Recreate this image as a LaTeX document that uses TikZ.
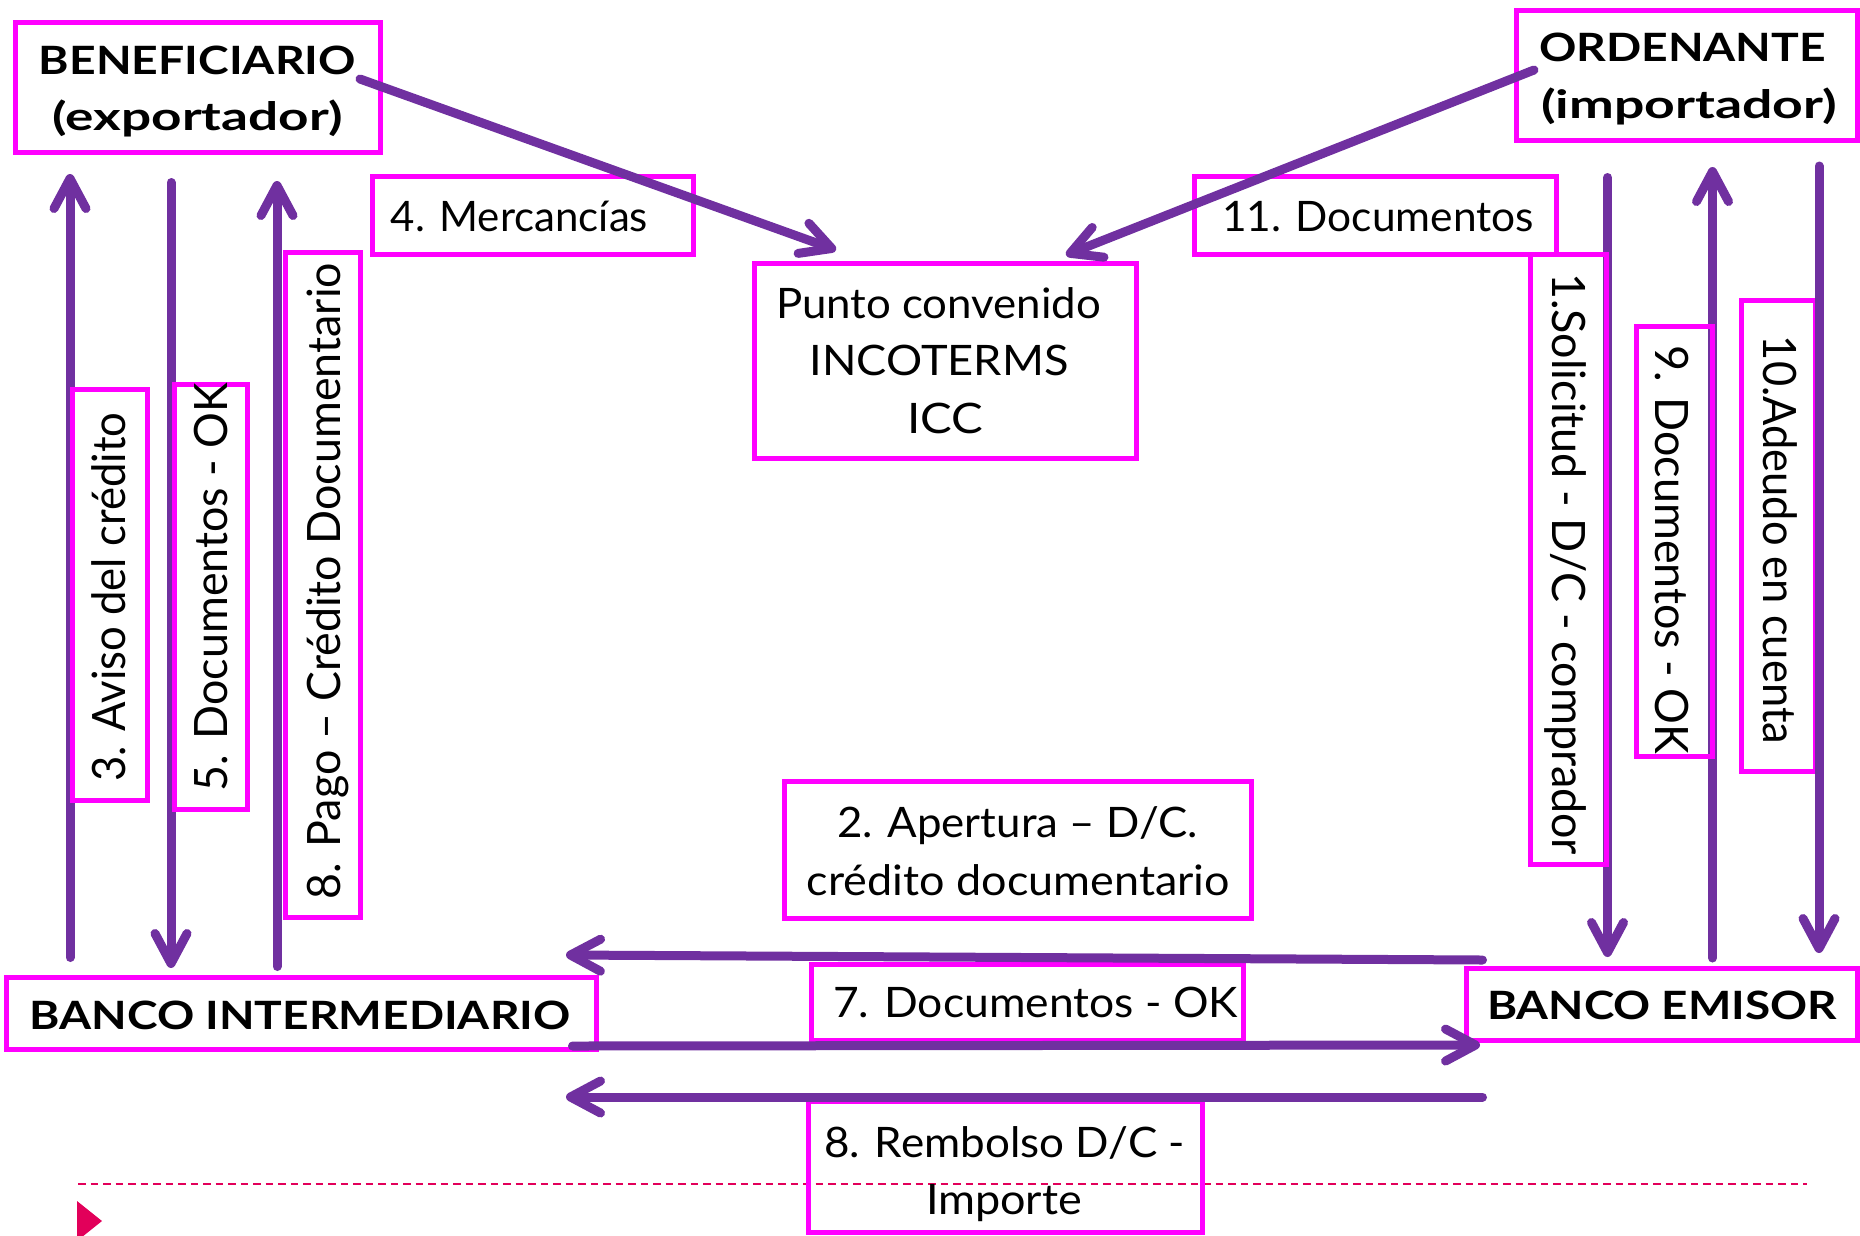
\documentclass[tikz,border=0pt]{standalone}
\usepackage{fontspec}
\setmainfont{Lato}
\usetikzlibrary{arrows.meta}
\definecolor{arrowpurple}{HTML}{7030A0}
\definecolor{boxmag}{HTML}{FF00FF}
\definecolor{accentred}{HTML}{E2005A}
\newcommand{\fitw}[2]{\resizebox{#1}{\height}{#2}}
\newcommand{\regsize}{\fontsize{42}{50}\selectfont}
\newcommand{\boldsize}{\fontsize{39}{47}\selectfont\bfseries}
\newcommand{\rotsize}{\fontsize{46}{55}\selectfont}
\tikzset{
  box/.style={draw=boxmag, line width=5pt, inner sep=0pt},
  lbl/.style={inner sep=0pt, anchor=base, font=\regsize},
  blbl/.style={inner sep=0pt, anchor=base, font=\boldsize},
  rlbl/.style={inner sep=0pt, anchor=base, rotate=90, font=\rotsize},
  rrlbl/.style={inner sep=0pt, anchor=base, rotate=-90, font=\rotsize},
  flow/.style={draw=arrowpurple, line width=9pt, line cap=round,
    -{Straight Barb[length=30pt,width=32pt,round]}},
  plainflow/.style={draw=arrowpurple, line width=9pt, line cap=round}
}
\begin{document}
\begin{tikzpicture}[x=1pt,y=-1pt]
\useasboundingbox (0,0) rectangle (1860,1235);

% arrow end coordinates
\coordinate (a3s) at (70,957.5);   \coordinate (a3e) at (70,174);
\coordinate (a5s) at (171,182.5);  \coordinate (a5e) at (171,968);
\coordinate (a8s) at (277,966.5);  \coordinate (a8e) at (277,181);
\coordinate (a1s) at (1607.5,177.5); \coordinate (a1e) at (1607.5,957);
\coordinate (a9s) at (1712.5,958); \coordinate (a9e) at (1712.5,167);
\coordinate (a10s) at (1819,166);  \coordinate (a10e) at (1819,953);
\coordinate (a4s) at (360,79);     \coordinate (a4e) at (836,250);
\coordinate (a11s) at (1534,70);   \coordinate (a11e) at (1066,255);
\coordinate (a2s) at (1482.5,960); \coordinate (a2e) at (566,955);
\coordinate (a7s) at (572.5,1046); \coordinate (a7e) at (1480,1045);
\coordinate (arbs) at (1482.5,1097); \coordinate (arbe) at (566,1097);
\coordinate (dl) at (78,1184);     \coordinate (dr) at (1807,1184);

% vertical flows (under the boxes)
\draw[flow] (a3s) -- (a3e);
\draw[flow] (a5s) -- (a5e);
\draw[flow] (a8s) -- (a8e);
\draw[flow] (a1s) -- (a1e);
\draw[flow] (a9s) -- (a9e);

% dashed rule and marker
\draw[accentred, line width=2.5pt, dash pattern=on 7.5pt off 5pt] (dl) -- (dr);
\fill[accentred] (77,1201) -- (102,1221) -- (77,1241) -- cycle;

% boxes
\node[box, minimum width=365pt, minimum height=130pt] (benef) at (197.5,87) {};
\node[box, minimum width=341pt, minimum height=130pt] (orden) at (1686.5,75) {};
\node[box, minimum width=382pt, minimum height=195pt] (punto) at (945,360.5) {};
\node[box, minimum width=321pt, minimum height=78pt] (merc) at (532.5,215) {};
\node[box, minimum width=362pt, minimum height=78pt] (docs) at (1375,215) {};
\node[box, minimum width=75pt, minimum height=410.5pt] (b3) at (110,594.75) {};
\node[box, minimum width=73pt, minimum height=424.5pt] (b5) at (211,596.75) {};
\node[box, minimum width=75pt, minimum height=665pt] (b8) at (323,584.5) {};
\node[box, minimum width=76pt, minimum height=610pt] (b1) at (1568,559.5) {};
\node[box, minimum width=76pt, minimum height=429.5pt] (b9) at (1674.5,541.25) {};
\node[box, minimum width=73.5pt, minimum height=470.5pt] (b10) at (1778.25,535.75) {};
\node[box, minimum width=467pt, minimum height=137pt] (b2) at (1017.5,849.5) {};
\node[box, minimum width=590pt, minimum height=72pt] (bint) at (301,1013) {};
\node[box, minimum width=432pt, minimum height=76pt] (b7) at (1027,1002) {};
\node[box, minimum width=391pt, minimum height=72pt] (bemi) at (1661.5,1004) {};
\node[box, minimum width=394pt, minimum height=131pt] (brem) at (1005,1166.5) {};

% flows drawn above the boxes
\draw[flow] (a10s) -- (a10e);
\draw[flow] (a4s) -- (a4e);
\draw[flow] (a11s) -- (a11e);
\draw[flow] (a2s) -- (a2e);
\draw[flow] (a7s) -- (a7e);
\draw[flow] (arbs) -- (arbe);

% horizontal labels
\node[blbl] (tbenef1) at (197.5,74) {\fitw{317pt}{BENEFICIARIO}};
\node[blbl] (tbenef2) at (197.5,130) {\fitw{290pt}{(exportador)}};
\node[blbl] (torden1) at (1682.5,61) {\fitw{287pt}{ORDENANTE}};
\node[blbl] (torden2) at (1689,118) {\fitw{296pt}{(importador)}};
\node[lbl] (tpunto1) at (938.5,318) {\fitw{325pt}{Punto convenido}};
\node[lbl] (tpunto2) at (939,375) {\fitw{259pt}{INCOTERMS}};
\node[lbl] (tpunto3) at (945,433) {\fitw{76pt}{ICC}};
\node[lbl] (tmerc) at (519.5,231) {\fitw{257pt}{4. Mercancías}};
\node[lbl] (tdocs) at (1378,231) {\fitw{312pt}{11. Documentos}};
\node[lbl] (tb2a) at (1017.5,837) {\fitw{361pt}{2. Apertura – D/C.}};
\node[lbl] (tb2b) at (1018.5,895) {\fitw{423pt}{crédito documentario}};
\node[lbl] (tb7) at (1035.5,1017) {\fitw{405pt}{7. Documentos - OK}};
\node[lbl] (trem1) at (1004.5,1157) {\fitw{361pt}{8. Rembolso D/C -}};
\node[lbl] (trem2) at (1004,1214) {\fitw{156pt}{Importe}};
\node[blbl] (tbint) at (300,1029) {\fitw{541pt}{BANCO INTERMEDIARIO}};
\node[blbl] (tbemi) at (1662,1019) {\fitw{350pt}{BANCO EMISOR}};

% rotated labels
\node[rlbl] (tb3) at (125,597) {\fitw{369pt}{3. Aviso del crédito}};
\node[rlbl] (tb5) at (227,587) {\fitw{408pt}{5. Documentos - OK}};
\node[rlbl] (tb8) at (340,581) {\fitw{636pt}{8. Pago – Crédito Documentario}};
\node[rrlbl] (tb1) at (1552,564) {\fitw{582pt}{1.Solicitud - D/C - comprador}};
\node[rrlbl] (tb9) at (1655,550) {\fitw{408pt}{9. Documentos - OK}};
\node[rrlbl] (tb10) at (1763,540) {\fitw{408pt}{10.Adeudo en cuenta}};
\end{tikzpicture}
\end{document}
